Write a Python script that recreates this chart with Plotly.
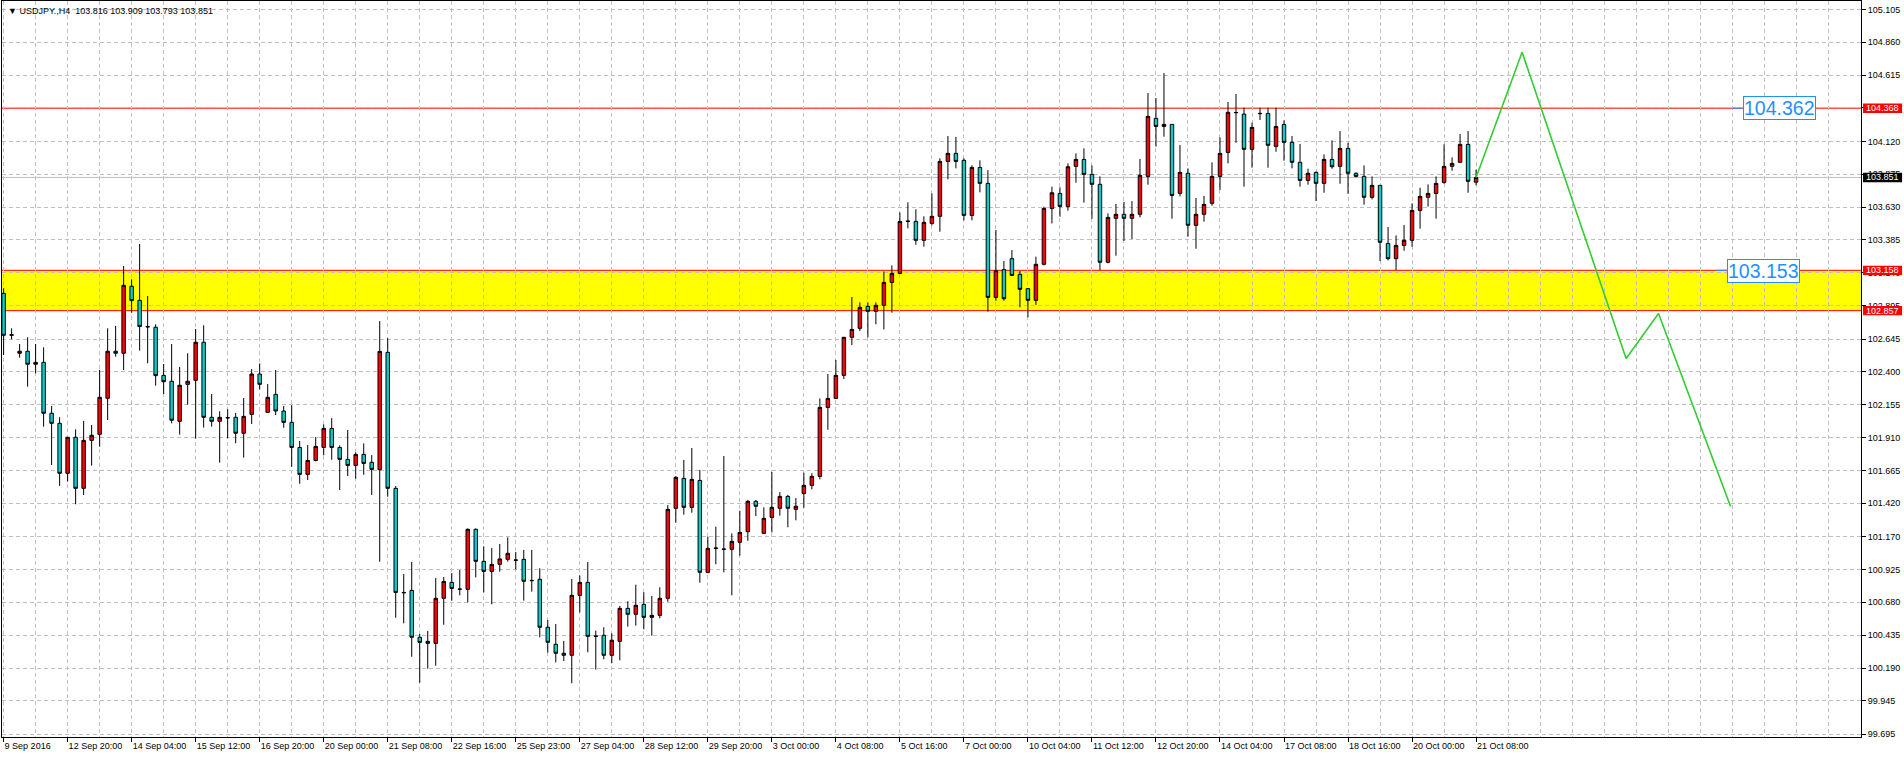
import plotly.graph_objects as go

# ---------------- data (USDJPY H4) ----------------
opens = [102.986, 102.673, 102.539, 102.554, 102.457, 102.471, 102.091, 102.016, 101.643, 101.912,
         101.531, 101.889, 101.934, 102.203, 102.554, 102.539, 103.039, 102.934, 102.738, 102.733,
         102.374, 102.330, 102.031, 102.307, 102.337, 102.621, 102.061, 102.031, 102.059, 102.061,
         101.942, 102.083, 102.384, 102.098, 102.232, 102.108, 102.023, 101.836, 101.635, 101.739,
         101.836, 101.978, 101.836, 101.747, 101.702, 101.784, 101.725, 101.670, 102.546, 101.531,
         100.754, 100.769, 100.419, 100.389, 100.374, 100.710, 100.829, 100.777, 100.777, 101.225,
         100.986, 100.911, 100.964, 101.001, 100.994, 101.001, 100.844, 100.852, 100.494, 100.367,
         100.300, 100.285, 100.732, 100.829, 100.426, 100.434, 100.285, 100.389, 100.635, 100.591,
         100.665, 100.568, 100.583, 100.710, 101.382, 101.605, 101.389, 101.590, 100.904, 101.083,
         101.078, 101.076, 101.128, 101.207, 101.434, 101.195, 101.314, 101.382, 101.471, 101.374,
         101.493, 101.553, 101.620, 102.135, 102.202, 102.374, 102.658, 102.725, 102.889, 102.852,
         102.897, 103.068, 103.135, 103.523, 103.523, 103.382, 103.508, 103.561, 103.971, 104.031,
         103.979, 103.568, 103.926, 103.807, 102.956, 103.163, 103.245, 103.128, 103.021, 102.934,
         103.203, 103.620, 103.732, 103.635, 103.934, 103.986, 103.874, 103.800, 103.218, 103.546,
         103.576, 103.546, 103.576, 103.859, 104.292, 104.232, 104.247, 103.732, 103.882, 103.494,
         103.576, 103.658, 103.859, 104.038, 104.334, 104.324, 104.061, 104.327, 104.329, 104.083,
         104.247, 104.113, 103.964, 103.829, 103.889, 103.807, 103.986, 103.934, 104.068, 103.882,
         103.859, 103.703, 103.792, 103.359, 103.245, 103.344, 103.382, 103.605, 103.703, 103.732,
         103.814, 103.934, 103.964, 104.098, 103.816]
highs = [103.024, 102.725, 102.608, 102.658, 102.608, 102.583, 102.146, 102.061, 101.915, 101.971,
         102.034, 102.004, 102.414, 102.725, 102.743, 103.190, 103.091, 103.355, 102.966, 102.755,
         102.459, 102.608, 102.437, 102.539, 102.720, 102.748, 102.235, 102.106, 102.121, 102.093,
         102.205, 102.421, 102.463, 102.309, 102.414, 102.145, 102.152, 101.884, 101.854, 101.914,
         102.008, 102.055, 101.851, 101.966, 101.799, 101.866, 101.779, 102.779, 102.652, 101.548,
         100.891, 100.981, 100.444, 100.466, 100.861, 100.869, 100.899, 100.921, 101.232, 101.232,
         101.098, 101.085, 101.116, 101.165, 101.056, 101.071, 101.071, 100.934, 100.548, 100.518,
         100.392, 100.854, 100.881, 100.981, 100.469, 100.494, 100.449, 100.653, 100.688, 100.812,
         100.755, 100.727, 100.792, 101.406, 101.623, 101.742, 101.832, 101.668, 101.170, 101.245,
         101.772, 101.195, 101.364, 101.444, 101.444, 101.389, 101.653, 101.503, 101.481, 101.459,
         101.648, 101.643, 102.202, 102.384, 102.489, 102.660, 102.959, 102.919, 102.919, 102.919,
         103.150, 103.195, 103.590, 103.665, 103.613, 103.561, 103.732, 103.994, 104.160, 104.153,
         103.994, 103.941, 103.979, 103.906, 103.459, 103.227, 103.309, 103.153, 103.025, 103.260,
         103.633, 103.782, 103.777, 103.956, 104.031, 104.068, 103.941, 103.859, 103.583, 103.653,
         103.668, 103.675, 103.989, 104.481, 104.444, 104.630, 104.250, 104.093, 103.919, 103.698,
         103.713, 103.964, 104.150, 104.414, 104.474, 104.372, 104.260, 104.372, 104.372, 104.372,
         104.277, 104.160, 104.101, 103.916, 103.896, 104.023, 104.128, 104.197, 104.110, 103.889,
         103.941, 103.859, 103.792, 103.481, 103.419, 103.496, 103.658, 103.774, 103.799, 103.859,
         104.098, 104.001, 104.175, 104.197, 103.909]
lows = [102.526, 102.643, 102.506, 102.290, 102.389, 101.991, 101.705, 101.549, 101.581, 101.412,
        101.481, 101.700, 101.842, 102.041, 102.514, 102.414, 102.842, 102.559, 102.464, 102.297,
        102.235, 102.016, 101.932, 102.156, 101.902, 101.984, 101.991, 101.723, 101.904, 101.867,
        101.760, 102.011, 102.269, 102.093, 102.078, 101.983, 101.692, 101.565, 101.593, 101.732,
        101.777, 101.744, 101.518, 101.623, 101.603, 101.632, 101.481, 100.983, 101.468, 100.565,
        100.523, 100.274, 100.080, 100.185, 100.207, 100.513, 100.692, 100.732, 100.680, 100.866,
        100.754, 100.665, 100.909, 100.984, 100.926, 100.693, 100.760, 100.419, 100.305, 100.232,
        100.242, 100.076, 100.605, 100.307, 100.178, 100.255, 100.225, 100.247, 100.499, 100.506,
        100.479, 100.431, 100.561, 100.685, 101.275, 101.334, 101.349, 100.827, 100.897, 100.964,
        100.904, 100.732, 101.028, 101.140, 101.324, 101.190, 101.202, 101.327, 101.240, 101.292,
        101.386, 101.523, 101.598, 101.968, 102.200, 102.347, 102.600, 102.705, 102.658, 102.755,
        102.717, 102.842, 103.130, 103.471, 103.349, 103.334, 103.494, 103.446, 103.837, 103.919,
        103.531, 103.531, 103.740, 102.849, 102.931, 102.931, 103.115, 102.882, 102.807, 102.899,
        103.195, 103.508, 103.558, 103.603, 103.812, 103.663, 103.543, 103.160, 103.210, 103.267,
        103.377, 103.392, 103.553, 103.797, 104.081, 104.155, 103.543, 103.710, 103.409, 103.319,
        103.521, 103.640, 103.757, 103.956, 104.110, 103.782, 103.924, 104.280, 103.924, 104.043,
        103.976, 103.919, 103.782, 103.797, 103.675, 103.737, 103.916, 103.804, 103.730, 103.852,
        103.648, 103.688, 103.227, 103.232, 103.160, 103.304, 103.334, 103.469, 103.633, 103.543,
        103.804, 103.901, 103.964, 103.737, 103.793]
closes = [102.673, 102.677, 102.554, 102.457, 102.471, 102.091, 102.016, 101.643, 101.912, 101.531,
          101.889, 101.927, 102.210, 102.554, 102.539, 103.046, 102.932, 102.738, 102.736, 102.372,
          102.327, 102.039, 102.300, 102.330, 102.621, 102.061, 102.031, 102.061, 102.057, 101.942,
          102.068, 102.384, 102.307, 102.210, 102.108, 102.023, 101.836, 101.635, 101.739, 101.844,
          101.978, 101.836, 101.747, 101.702, 101.784, 101.717, 101.672, 102.553, 101.531, 100.754,
          100.752, 100.419, 100.381, 100.374, 100.710, 100.836, 100.784, 100.779, 101.225, 100.986,
          100.911, 100.963, 101.004, 101.046, 100.996, 100.837, 100.842, 100.494, 100.382, 100.300,
          100.285, 100.732, 100.829, 100.426, 100.428, 100.285, 100.397, 100.635, 100.591, 100.658,
          100.568, 100.583, 100.710, 101.374, 101.613, 101.389, 101.598, 100.904, 101.083, 101.085,
          101.076, 101.135, 101.202, 101.434, 101.397, 101.307, 101.389, 101.471, 101.382, 101.397,
          101.553, 101.620, 102.135, 102.202, 102.374, 102.658, 102.717, 102.882, 102.852, 102.897,
          103.068, 103.135, 103.523, 103.525, 103.382, 103.516, 103.561, 103.971, 104.031, 103.971,
          103.568, 103.926, 103.807, 102.956, 103.155, 102.946, 103.120, 103.016, 102.934, 103.203,
          103.620, 103.737, 103.635, 103.931, 103.986, 103.874, 103.800, 103.218, 103.553, 103.576,
          103.546, 103.576, 103.867, 104.307, 104.232, 104.247, 103.717, 103.889, 103.494, 103.576,
          103.650, 103.859, 104.031, 104.337, 104.336, 104.061, 104.225, 104.329, 104.091, 104.232,
          104.113, 103.964, 103.829, 103.882, 103.807, 103.986, 103.931, 104.068, 103.882, 103.859,
          103.703, 103.792, 103.367, 103.245, 103.344, 103.382, 103.605, 103.710, 103.732, 103.807,
          103.934, 103.956, 104.098, 103.822, 103.851]

tick_labels = ["9 Sep 2016", "12 Sep 20:00", "14 Sep 04:00", "15 Sep 12:00", "16 Sep 20:00",
               "20 Sep 00:00", "21 Sep 08:00", "22 Sep 16:00", "25 Sep 23:00", "27 Sep 04:00",
               "28 Sep 12:00", "29 Sep 20:00", "3 Oct 00:00", "4 Oct 08:00", "5 Oct 16:00",
               "7 Oct 00:00", "10 Oct 04:00", "11 Oct 12:00", "12 Oct 20:00", "14 Oct 04:00",
               "17 Oct 08:00", "18 Oct 16:00", "20 Oct 00:00", "21 Oct 08:00"]
price_ticks = [105.105, 104.860, 104.615, 104.370, 104.120, 103.875, 103.630, 103.385, 103.140,
               102.895, 102.645, 102.400, 102.155, 101.910, 101.665, 101.420, 101.170, 100.925,
               100.680, 100.435, 100.190, 99.945, 99.695]

forecast_bars = [184, 189.75, 202.75, 206.8, 215.8]
forecast_prices = [103.851, 104.786, 102.50, 102.836, 101.395]

resistance_level = 104.368
zone_top = 103.158
zone_bottom = 102.857
last_price = 103.851
label_upper_text = "104.362"
label_lower_text = "103.153"
header_text = "\u25BC USDJPY.,H4\u00a0\u00a0103.816 103.909 103.793 103.851"

# ---------------- figure ----------------
BULL = "#FF0000"
BEAR = "#00CED1"
GRID = "#C0C0C0"
FONT = "Liberation Sans, Arial, sans-serif"
BLUE = "#1E90FF"
FS = 9

bars = list(range(len(opens)))
n_total = 232

fig = go.Figure()

fig.add_trace(go.Candlestick(
    x=bars, open=opens, high=highs, low=lows, close=closes,
    increasing=dict(fillcolor=BULL, line=dict(color="black", width=1)),
    decreasing=dict(fillcolor=BEAR, line=dict(color="black", width=1)),
    whiskerwidth=0, hoverinfo="skip", showlegend=False,
))

fig.add_trace(go.Scatter(
    x=forecast_bars, y=forecast_prices, mode="lines",
    line=dict(color="#32CD32", width=1.6), hoverinfo="skip", showlegend=False,
))

shapes = [
    dict(type="rect", xref="paper", x0=0, x1=1, yref="y", y0=zone_bottom, y1=zone_top,
         fillcolor="#FFFF00", line=dict(width=0), layer="below"),
    dict(type="line", xref="paper", x0=0, x1=1, yref="y", y0=zone_top, y1=zone_top,
         line=dict(color="#FF0000", width=1), layer="between"),
    dict(type="line", xref="paper", x0=0, x1=1, yref="y", y0=zone_bottom, y1=zone_bottom,
         line=dict(color="#FF0000", width=1), layer="between"),
    dict(type="line", xref="paper", x0=0, x1=1, yref="y", y0=resistance_level, y1=resistance_level,
         line=dict(color="#FF0000", width=1), layer="between"),
    dict(type="line", xref="paper", x0=0, x1=1, yref="y", y0=last_price, y1=last_price,
         line=dict(color="#C0C0C0", width=1), layer="between"),
    # short leader dashes of the price labels
    dict(type="line", xref="x", x0=216.0, x1=217.3, yref="y", y0=resistance_level, y1=resistance_level,
         line=dict(color=BLUE, width=1), layer="above"),
    dict(type="line", xref="x", x0=214.0, x1=215.3, yref="y", y0=zone_top, y1=zone_top,
         line=dict(color=BLUE, width=1), layer="above"),
]

annotations = []
# right-axis highlighted price boxes
box_x0, box_x1 = 1.0011, 1.0221
half_h = 0.035
for price, color in [(resistance_level, "#FF0000"), (zone_top, "#FF0000"),
                     (zone_bottom, "#FF0000"), (last_price, "#000000")]:
    shapes.append(dict(type="rect", xref="paper", x0=box_x0, x1=box_x1, yref="y",
                       y0=price - half_h, y1=price + half_h, fillcolor=color,
                       line=dict(width=0), layer="above"))
    annotations.append(dict(xref="paper", x=(box_x0 + box_x1) / 2, yref="y", y=price,
                            text=f"{price:.3f}", showarrow=False, xanchor="center", yanchor="middle",
                            font=dict(family=FONT, size=FS, color="white")))

# blue price labels in the chart
annotations.append(dict(xref="x", x=221.9, yref="y", y=resistance_level, text=label_upper_text,
                        showarrow=False, xanchor="center", yanchor="middle",
                        font=dict(family=FONT, size=19.5, color=BLUE),
                        bordercolor=BLUE, borderwidth=1, borderpad=0, bgcolor="white"))
annotations.append(dict(xref="x", x=219.9, yref="y", y=103.155, text=label_lower_text,
                        showarrow=False, xanchor="center", yanchor="middle",
                        font=dict(family=FONT, size=19.5, color=BLUE),
                        bordercolor=BLUE, borderwidth=1, borderpad=0, bgcolor="white"))

# header
annotations.append(dict(xref="paper", x=0, yref="paper", y=1, xanchor="left", yanchor="top",
                        xshift=4, yshift=-3, text=header_text, showarrow=False,
                        font=dict(family=FONT, size=FS, color="black")))

major_vals = list(range(0, len(tick_labels) * 8, 8))
minor_vals = [v for v in range(4, n_total, 4) if v not in major_vals]

fig.update_layout(
    width=1904, height=758,
    margin=dict(l=2, r=43, t=1, b=21),
    paper_bgcolor="white", plot_bgcolor="white",
    font=dict(family=FONT, size=FS, color="black"),
    showlegend=False,
    boxgap=0.38,
    shapes=shapes, annotations=annotations,
    xaxis=dict(
        range=[-0.2, 232.1], rangeslider=dict(visible=False),
        tickmode="array", tickvals=major_vals, ticktext=tick_labels,
        ticks="outside", ticklen=4, tickcolor="black", tickangle=0,
        ticklabelposition="outside right",
        showgrid=True, gridcolor=GRID, griddash="4px,3px", gridwidth=1,
        minor=dict(tickvals=minor_vals, showgrid=True, gridcolor=GRID, griddash="4px,3px",
                   gridwidth=1, ticks=""),
        showline=True, linecolor="black", linewidth=1, mirror=True,
        zeroline=False, fixedrange=True, automargin=False,
        tickfont=dict(family=FONT, size=FS, color="black"),
    ),
    yaxis=dict(
        side="right", range=[99.675, 105.168],
        tickmode="array", tickvals=price_ticks, ticktext=[f"{v:.3f}" for v in price_ticks],
        ticks="outside", ticklen=4, tickcolor="black",
        showgrid=True, gridcolor=GRID, griddash="4px,3px", gridwidth=1,
        showline=True, linecolor="black", linewidth=1, mirror=True,
        zeroline=False, fixedrange=True, automargin=False,
        tickfont=dict(family=FONT, size=FS, color="black"),
    ),
)

fig.write_html(
    "out.html",
    config={"displayModeBar": False},
    post_script="document.body.style.margin='0';document.body.style.overflow='hidden';",
)
